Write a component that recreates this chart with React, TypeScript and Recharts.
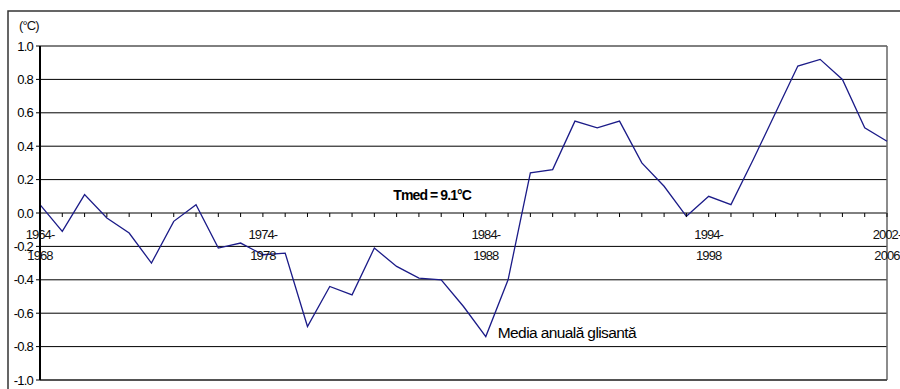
import { CartesianGrid, Line, LineChart, ReferenceDot, ReferenceLine, XAxis, YAxis } from "recharts";

// 5-year moving windows
const periods = [
  "1964-1968", "1965-1969", "1966-1970", "1967-1971", "1968-1972", "1969-1973", "1970-1974",
  "1971-1975", "1972-1976", "1973-1977", "1974-1978", "1975-1979", "1976-1980", "1977-1981",
  "1978-1982", "1979-1983", "1980-1984", "1981-1985", "1982-1986", "1983-1987", "1984-1988",
  "1985-1989", "1986-1990", "1987-1991", "1988-1992", "1989-1993", "1990-1994", "1991-1995",
  "1992-1996", "1993-1997", "1994-1998", "1995-1999", "1996-2000", "1997-2001", "1998-2002",
  "1999-2003", "2000-2004", "2001-2005", "2002-2006",
];

// anomaly of the moving annual mean vs Tmed (°C)
const anomaly = [
  0.05, -0.11, 0.11, -0.03, -0.12, -0.3, -0.05, 0.05, -0.21, -0.18, -0.25, -0.24, -0.68,
  -0.44, -0.49, -0.21, -0.32, -0.39, -0.4, -0.56, -0.74, -0.4, 0.24, 0.26, 0.55, 0.51, 0.55,
  0.3, 0.16, -0.02, 0.1, 0.05, 0.32, 0.6, 0.88, 0.92, 0.8, 0.51, 0.43,
];

const yTicks = [-1, -0.8, -0.6, -0.4, -0.2, 0, 0.2, 0.4, 0.6, 0.8, 1];
const labeledPeriods = ["1964-1968", "1974-1978", "1984-1988", "1994-1998", "2002-2006"];

const data = periods.map((period, i) => ({ period, value: anomaly[i] }));

const FONT = "'Liberation Sans', Arial, sans-serif";
const LINE_COLOR = "#1b1b88";

function CategoryTick(props: any) {
  const { cx, cy, period } = props;
  const [from, to] = period.split("-");
  const labeled = labeledPeriods.includes(period);
  return (
    <g>
      <line x1={cx} y1={cy} x2={cx} y2={cy + 4} stroke="#000" strokeWidth={1} />
      {labeled && (
        <text
          x={cx}
          y={cy + 26}
          textAnchor="middle"
          fontFamily={FONT}
          fontSize={13}
          letterSpacing={-0.9}
          fill="#111"
        >
          <tspan x={cx}>{from + "-"}</tspan>
          <tspan x={cx} dy={21}>
            {to}
          </tspan>
        </text>
      )}
    </g>
  );
}

export default function App() {
  return (
    <div
      style={{
        position: "absolute",
        left: 0,
        top: 0,
        width: 900,
        height: 389,
        overflow: "hidden",
        background: "#fff",
      }}
    >
      <div
        style={{
          position: "absolute",
          left: 19,
          top: 18,
          fontFamily: FONT,
          fontSize: 13,
          letterSpacing: -0.9,
          color: "#111",
        }}
      >
        (°C)
      </div>
      <div style={{ position: "absolute", left: 0, top: 0 }}>
        <LineChart
          width={900}
          height={389}
          data={data}
          margin={{ top: 46, right: 13, bottom: 9, left: 0 }}
        >
          {/* outer chart frame; its right and bottom edges lie outside the view */}
          <path d="M8 389 V11 H900" fill="none" stroke="#333" strokeWidth={1.5} />
          <CartesianGrid vertical={false} stroke="#000" />
          <XAxis dataKey="period" hide padding={{ left: 0, right: 0 }} />
          <YAxis
            width={40}
            domain={[-1, 1]}
            ticks={yTicks}
            interval={0}
            tickFormatter={(v: number) => v.toFixed(1)}
            axisLine={{ stroke: "#000", strokeWidth: 2 }}
            tickLine={{ stroke: "#000" }}
            tickSize={4}
            tickMargin={3}
            tick={{ fill: "#000", fontSize: 13, fontFamily: FONT, letterSpacing: -0.8 }}
          />
          <ReferenceLine x={periods[periods.length - 1]} stroke="#666" strokeWidth={1.5} />
          <ReferenceLine y={-1} stroke="#444" strokeWidth={1.5} />
          {periods.map((p) => (
            <ReferenceDot
              key={p}
              x={p}
              y={0}
              r={0}
              shape={(props: any) => <CategoryTick {...props} period={p} />}
            />
          ))}
          <ReferenceDot
            x={periods[18]}
            y={0.1}
            r={0}
            shape={(props: any) => (
              <text
                x={props.cx - 9}
                y={props.cy + 4}
                textAnchor="middle"
                fontFamily={FONT}
                fontSize={14}
                fontWeight="bold"
                letterSpacing={-0.9}
                fill="#000"
              >
                Tmed = 9.1°C
              </text>
            )}
          />
          <Line
            type="linear"
            dataKey="value"
            stroke={LINE_COLOR}
            strokeWidth={1.3}
            dot={false}
            isAnimationActive={false}
          />
          <ReferenceDot
            x={periods[20]}
            y={anomaly[20]}
            r={0}
            shape={(props: any) => (
              <text
                x={props.cx + 12}
                y={props.cy + 1}
                fontFamily={FONT}
                fontSize={15.5}
                letterSpacing={-0.6}
                fill="#000"
              >
                Media anuală glisantă
              </text>
            )}
          />
        </LineChart>
      </div>
    </div>
  );
}
